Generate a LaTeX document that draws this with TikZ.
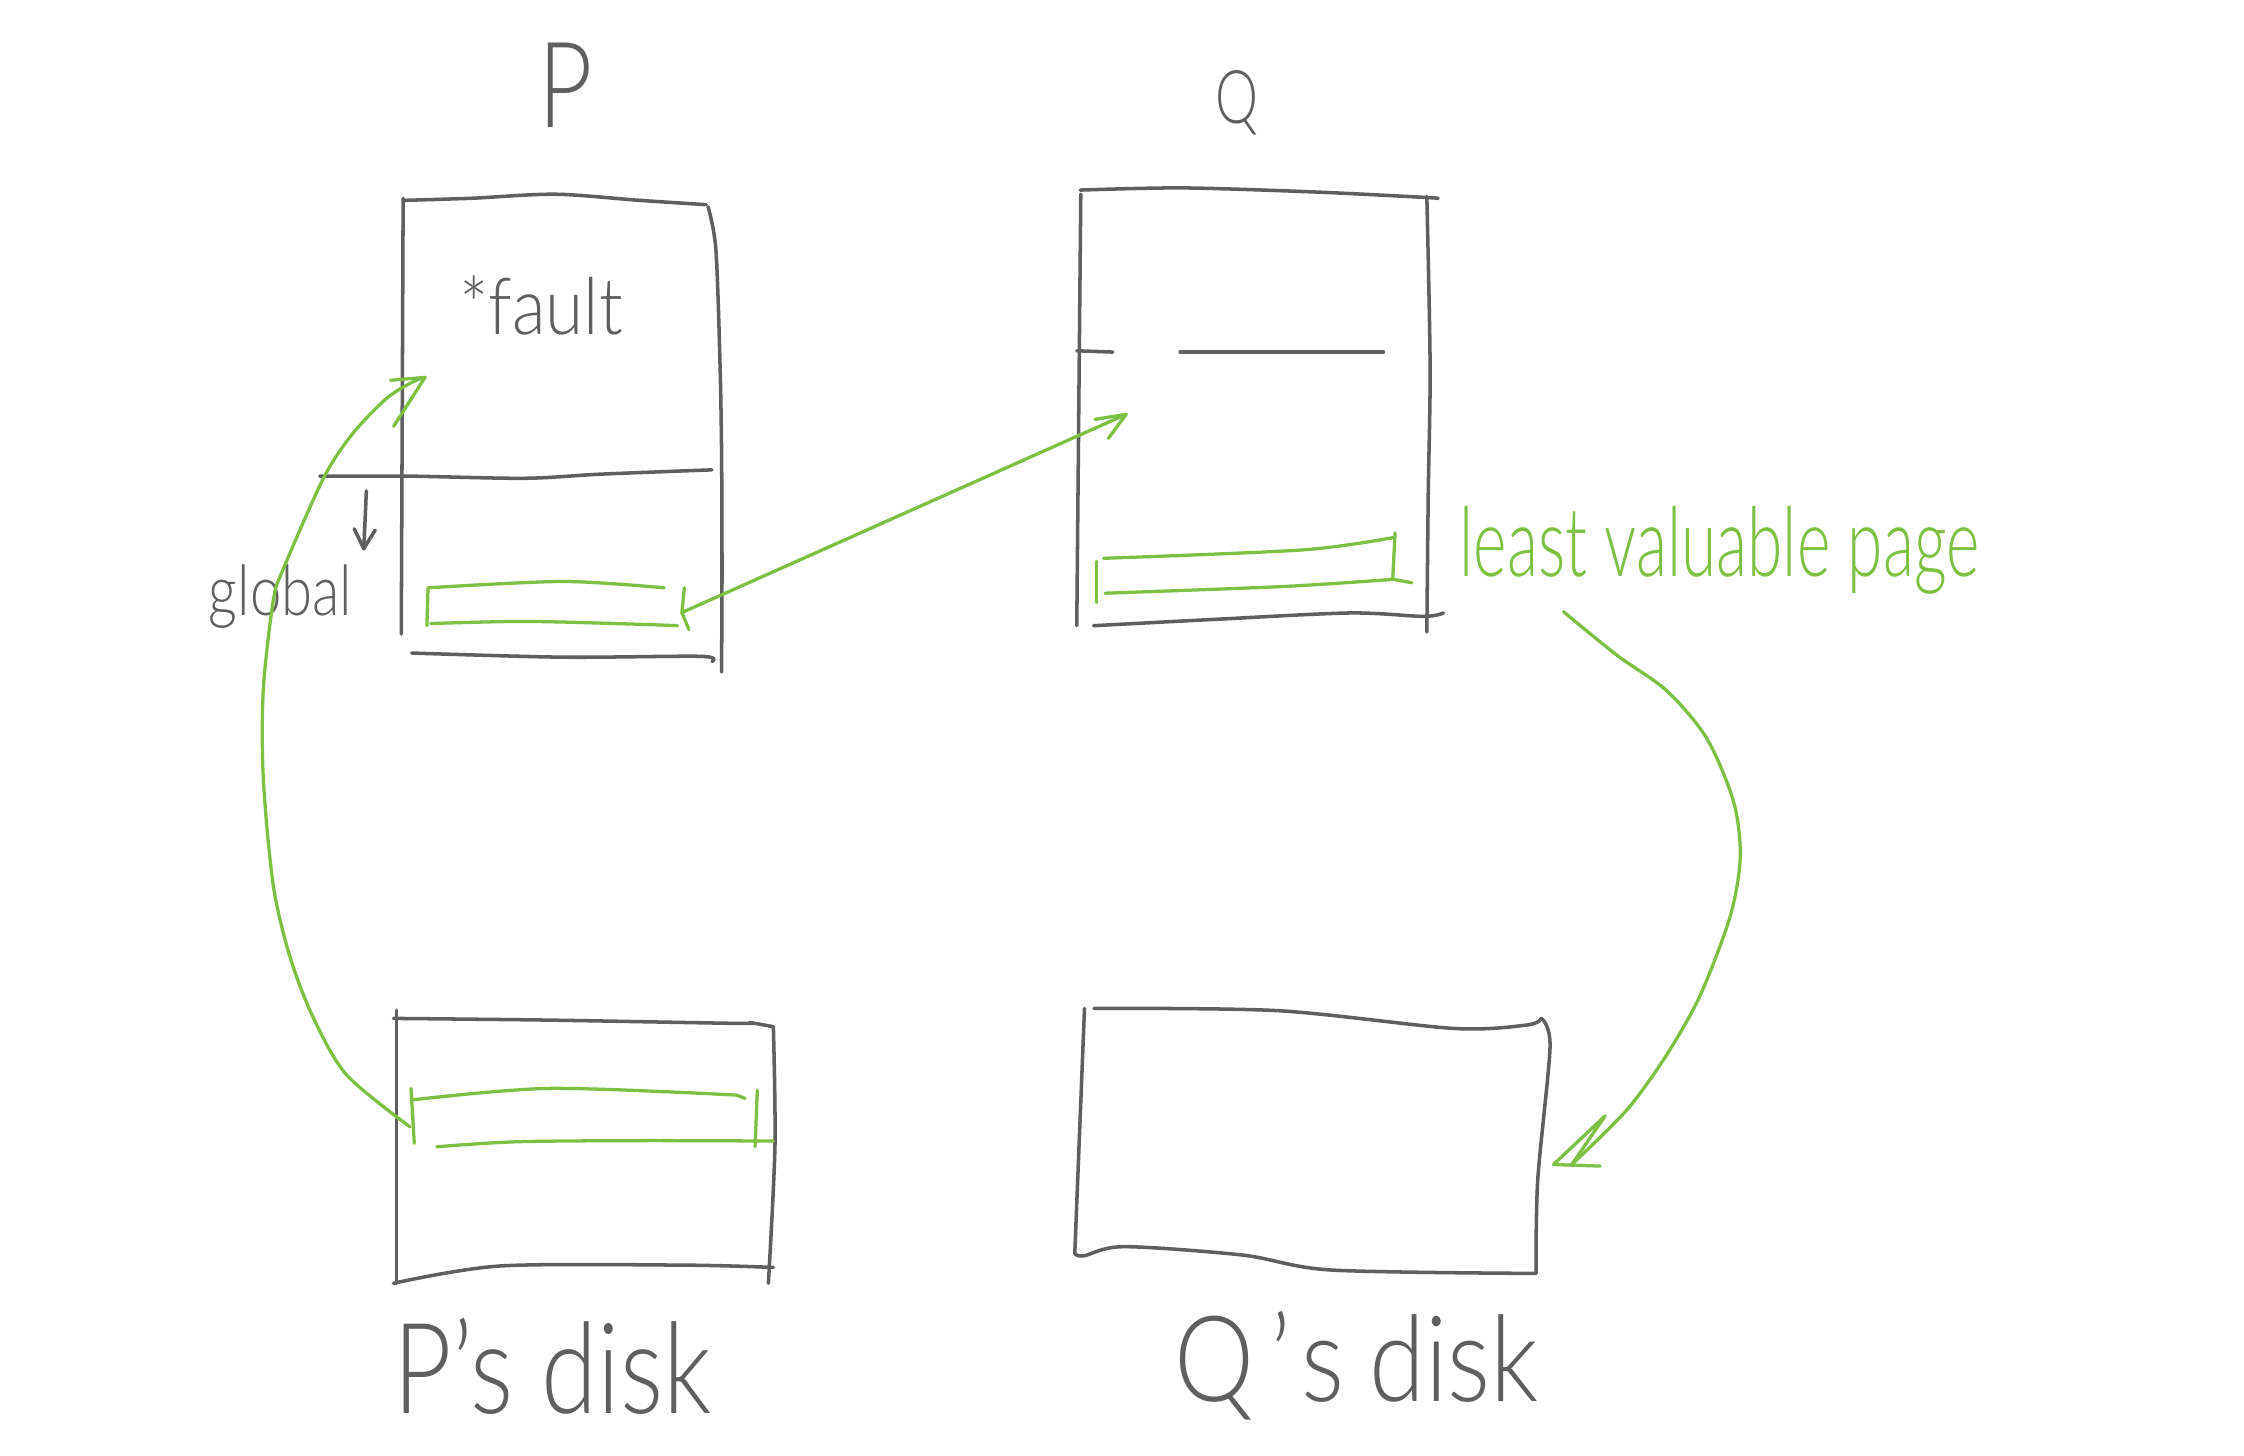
\documentclass[tikz,border=0pt]{standalone}
\usepackage{fontspec}
\setmainfont{Lato Light}
\usepackage{graphicx}
\definecolor{penGray}{RGB}{95,95,95}
\definecolor{hlGreen}{RGB}{126,192,67}
\begin{document}
\begin{tikzpicture}[x=0.01cm,y=-0.01cm, line cap=round, line join=round,
  grayline/.style={draw=penGray, line width=0.7pt},
  greenline/.style={draw=hlGreen, line width=0.65pt},
  lbl/.style={inner sep=0pt, outer sep=0pt, anchor=base west, text=penGray},
  glbl/.style={inner sep=0pt, outer sep=0pt, anchor=base west, text=hlGreen}]
\useasboundingbox[fill=white] (0,0) rectangle (1568,1017);

% ---------- labels ----------
\node[lbl] (labP) at (376,89) {\resizebox{0.38cm}{0.59cm}{P}};
\node[lbl] (labQ) at (849,86) {\resizebox{0.30cm}{0.37cm}{Q}};
\node[lbl] (labFault) at (321,234) {\resizebox{1.14cm}{0.41cm}{*fault}};
\node[lbl] (labGlobal) at (146,430) {\resizebox{1.00cm}{0.355cm}{global}};
\node[glbl] (labLeast) at (1020,403) {\resizebox{3.63cm}{0.49cm}{least valuable page}};
\node[lbl] (labPdisk) at (275,987.6) {\resizebox{2.22cm}{0.666cm}{P's disk}};
\node[lbl] (labQdisk) at (821,979.4) {\resizebox{2.54cm}{0.63cm}{Q\kern0.15em'\kern0.1em s\kern0.25em disk}};

% ---------- P memory ----------
\draw[grayline] (281.7,138.6) -- (280.4,443);
\draw[grayline] plot[smooth] coordinates {(282,140) (330,138.5) (388,135.7) (447,140) (493.5,143)};
\draw[grayline] plot[smooth] coordinates {(494.8,144.5) (500.2,173.9) (503,250) (504.2,315) (504.5,400) (504.2,469.5)};
\draw[grayline] plot[smooth] coordinates {(287.6,456.3) (393.2,459.2) (489.5,458.6) (497.5,462.2)};
\draw[grayline] plot[smooth] coordinates {(223.4,332.7) (286.2,332.7) (366.5,334.2) (420,331.3) (497.5,328.3)};
% small down arrow
\draw[grayline] (256,343) -- (254.2,383.5);
\draw[grayline] (247.5,369.5) -- (254.2,383.3) -- (262.2,370.4);
% green page in P
\draw[greenline] plot[smooth] coordinates {(299.6,410.7) (393.2,406.3) (464,410.7)};
\draw[greenline] (299.1,410.7) -- (298.3,437.2);
\draw[greenline] plot[smooth] coordinates {(301,435.7) (366.5,434.2) (440,436) (473.4,437.2)};

% ---------- Q memory ----------
\draw[grayline] plot[smooth] coordinates {(754.8,132.8) (827,131.3) (920.1,134.2) (997,138) (1004,138.6)};
\draw[grayline] (755.2,135.7) -- (752.4,437.2);
\draw[grayline] plot[smooth] coordinates {(997,137.2) (999.3,256.3) (998,344.5) (997,441.6)};
\draw[grayline] plot[smooth] coordinates {(764.1,437.2) (850.3,432.7) (943.4,428.3) (994.7,430.7) (1008.6,428.3)};
\draw[grayline] (752.4,245.1) -- (777.6,246);
\draw[grayline] (824.6,246) -- (966.7,246);
% green page in Q
\draw[greenline] (766,392.2) -- (766,421);
\draw[greenline] plot[smooth] coordinates {(771.1,390.1) (910.8,384.2) (974.8,375.4)};
\draw[greenline] (974.8,372.4) -- (973.2,404.8);
\draw[greenline] plot[smooth] coordinates {(772.2,414.5) (896.8,409.8) (973.7,404.8)} -- (986.5,407.2);

% ---------- P's disk ----------
\draw[grayline] (277,705.8) -- (277,896.7);
\draw[grayline] plot[smooth] coordinates {(274.9,711.6) (384.3,712.8) (515.9,715.1) (524,714.6) (540.4,717.4)};
\draw[grayline] plot[smooth] coordinates {(540.4,717.4) (541.5,801.2) (536.9,896.7)};
\draw[grayline] plot[smooth] coordinates {(274.9,896.7) (349.4,884.6) (477.5,884) (540.4,885.6)};
\draw[greenline] plot[smooth] coordinates {(287.7,768.6) (384.3,760.5) (514.8,765.2)} -- (520.6,767.5);
\draw[greenline] (287.2,760.5) -- (289.5,798.9);
\draw[greenline] (529.2,761.7) -- (527.6,801.3);
\draw[greenline] plot[smooth] coordinates {(305.2,801.3) (361.1,797.8) (450,797) (540.4,797.3)};

% ---------- Q's disk ----------
\draw[grayline] (757.8,704.6) -- (751,875.8);
\draw[grayline] plot[smooth] coordinates {(764.4,704.6) (893.1,706.2) (1015.7,718.6) (1067.1,716.2) (1077,711.6)};
\draw[grayline] plot[smooth] coordinates {(1077,711.6) (1083.1,731.4) (1074.5,824.5) (1073.3,889.8)};
\draw[grayline] plot[smooth] coordinates {(751,875.8) (757.1,877.6) (785.3,871.1) (868.6,877) (929.9,887.4) (1073.3,889.8)};

% ---------- arrows ----------
\coordinate (pTip) at (476.5,428);
\coordinate (qTip) at (786.9,289.5);
\draw[greenline] (pTip) -- (qTip);
\draw[greenline] (765.2,293) -- (qTip) -- (774.5,306.3);
\draw[greenline] (478.2,410.7) -- (pTip) -- (481.4,440);

\coordinate (faultTip) at (297,263.7);
\draw[greenline] plot[smooth] coordinates {(286.5,787.4) (242.3,751.2) (219,711.3) (202.7,668.8) (191,619) (184,544) (184,481.7) (191,419.3) (198,397.5) (226,334.2) (246.1,303.4) (270.2,278.3) (288.9,266.6) (297,263.7)};
\draw[greenline] (272.9,265.7) -- (faultTip) -- (275,298);

\coordinate (diskTip) at (1085.5,813.7);
\draw[greenline] plot[smooth] coordinates {(1092.5,427.4) (1129.8,457.8) (1164.7,482.7) (1192.6,515.9) (1211.3,560) (1216,598.7) (1209,640.2) (1188,695.5) (1164.7,736.9) (1136.7,775.6) (1098.3,813.7)};
\draw[greenline] (1098.3,813.7) -- (1121.6,779.7) -- (diskTip) -- (1118.1,814.8);
\end{tikzpicture}
\end{document}
